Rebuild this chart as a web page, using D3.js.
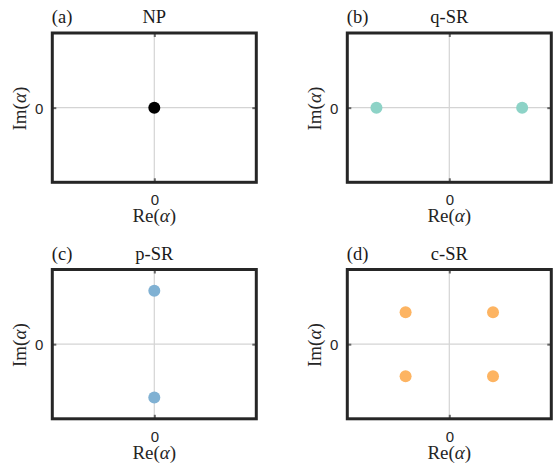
<!DOCTYPE html>
<html>
<head>
<meta charset="utf-8">
<script src="https://cdn.jsdelivr.net/npm/d3@7"></script>
<style>
html,body{margin:0;padding:0;background:#fff;}
svg{display:block;}
</style>
</head>
<body>
<svg id="chart" width="554" height="468"></svg>
<script>
// ---- data ----
const panelTitles = ["NP", "q-SR", "p-SR", "c-SR"];
const panelTags = ["(a)", "(b)", "(c)", "(d)"];
const panelColors = ["#000000", "#8dd3c7", "#80b1d3", "#fdb462"];
const reValues = [[0], [-1, 1], [0, 0], [-0.6, 0.6, -0.6, 0.6]];
const imValues = [[0], [0, 0], [1, -1], [0.6, 0.6, -0.6, -0.6]];
const tickValues = [0];
const tickLabels = ["0"];
const axisDomain = [-1.4, 1.4];

// ---- layout ----
const colLeft = [52.3, 347.3];
const rowTop = [33, 269.5];
const boxW = 204, boxH = 149.3;

const svg = d3.select("#chart");
const serif = "'Liberation Serif', 'DejaVu Serif', serif";
const sans = "'Liberation Sans', Arial, sans-serif";
const fmt = d => tickLabels[tickValues.indexOf(d)];

panelTitles.forEach((title, i) => {
  const col = i % 2, row = Math.floor(i / 2);
  const g = svg.append("g").attr("transform", `translate(${colLeft[col]},${rowTop[row]})`);
  const x = d3.scaleLinear().domain(axisDomain).range([0, boxW]);
  const y = d3.scaleLinear().domain(axisDomain).range([boxH, 0]);

  // grid lines at ticks
  g.selectAll(".gx").data(tickValues).join("line")
    .attr("x1", d => x(d)).attr("x2", d => x(d)).attr("y1", 0).attr("y2", boxH)
    .attr("stroke", "#d4d4d4").attr("stroke-width", 1.2);
  g.selectAll(".gy").data(tickValues).join("line")
    .attr("y1", d => y(d)).attr("y2", d => y(d)).attr("x1", 0).attr("x2", boxW)
    .attr("stroke", "#d4d4d4").attr("stroke-width", 1.2);

  // axes (ticks inward, mirrored)
  const tickLen = 4;
  const axB = g.append("g").attr("transform", `translate(0,${boxH})`)
    .call(d3.axisBottom(x).tickValues(tickValues).tickSize(-tickLen).tickFormat(fmt));
  const axT = g.append("g")
    .call(d3.axisTop(x).tickValues(tickValues).tickSize(-tickLen).tickFormat(""));
  const axL = g.append("g")
    .call(d3.axisLeft(y).tickValues(tickValues).tickSize(-tickLen).tickFormat(fmt));
  const axR = g.append("g").attr("transform", `translate(${boxW},0)`)
    .call(d3.axisRight(y).tickValues(tickValues).tickSize(-tickLen).tickFormat(""));
  [axB, axT, axL, axR].forEach(a => {
    a.select(".domain").remove();
    a.attr("font-size", 15).attr("font-family", sans);
    a.selectAll(".tick line").attr("stroke", "#666").attr("stroke-width", 2);
    a.selectAll(".tick text").attr("fill", "#262626").attr("font-size", 15).attr("font-family", sans);
  });
  axB.selectAll(".tick text").attr("y", 23).attr("dy", null);
  axL.selectAll(".tick text").attr("x", -9).attr("dy", "0.36em");

  // points
  g.selectAll("circle").data(reValues[i].map((r, k) => ({re: r, im: imValues[i][k]}))).join("circle")
    .attr("cx", d => x(d.re)).attr("cy", d => y(d.im)).attr("r", 6)
    .attr("fill", panelColors[i]);

  // box
  g.append("rect").attr("x", 0).attr("y", 0).attr("width", boxW).attr("height", boxH)
    .attr("fill", "none").attr("stroke", "#262626").attr("stroke-width", 3);

  // title & tag
  g.append("text").attr("x", boxW / 2).attr("y", -10).attr("text-anchor", "middle")
    .style("font-family", serif).style("font-size", "18.5px").attr("fill", "#1a1a1a").text(title);
  g.append("text").attr("x", -0.5).attr("y", -10).attr("text-anchor", "start")
    .style("font-family", serif).style("font-size", "18.5px").attr("fill", "#1a1a1a").text(panelTags[i]);

  // axis labels
  const reLab = g.append("text").attr("x", boxW / 2).attr("y", boxH + 40).attr("text-anchor", "middle")
    .style("font-family", serif).style("font-size", "19px").attr("fill", "#262626");
  reLab.append("tspan").text("Re(");
  reLab.append("tspan").style("font-style", "italic").text("α");
  reLab.append("tspan").text(")");
  const imLab = g.append("text").attr("transform", `translate(-26.3,${boxH / 2 + 1}) rotate(-90)`)
    .attr("text-anchor", "middle")
    .style("font-family", serif).style("font-size", "19px").attr("fill", "#262626");
  imLab.append("tspan").text("Im(");
  imLab.append("tspan").style("font-style", "italic").text("α");
  imLab.append("tspan").text(")");
});
</script>
</body>
</html>
